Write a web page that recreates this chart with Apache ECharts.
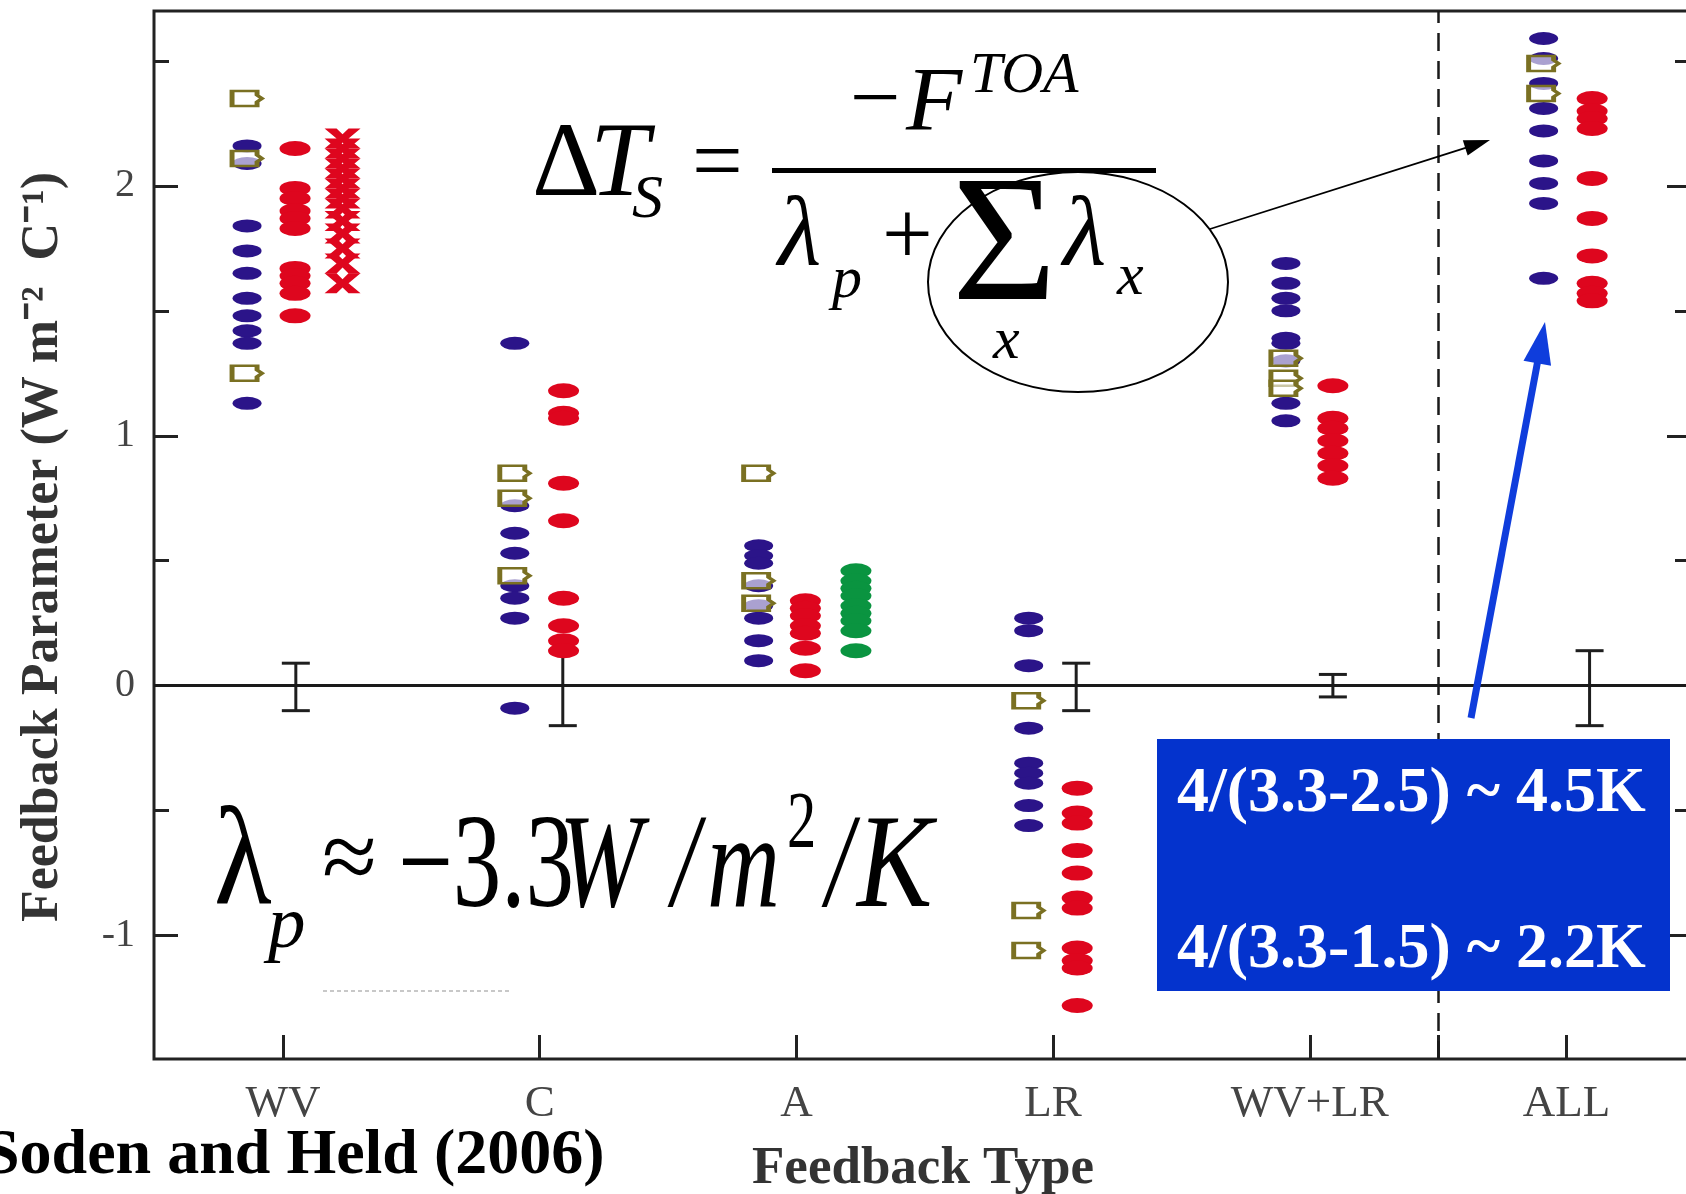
<!DOCTYPE html>
<html><head><meta charset="utf-8">
<script src="https://cdn.jsdelivr.net/npm/echarts@6/dist/echarts.min.js"></script>
<style>html,body{margin:0;padding:0;background:#fff}#c{width:1686px;height:1194px}</style>
</head><body><div id="c"></div>
<script>
// ---------- data ----------
const categories = ['WV', 'C', 'A', 'LR', 'WV+LR', 'ALL'];
const yTickLabels = [-1, 0, 1, 2];
const yMinorTicks = [-0.5, 0.5, 1.5, 2.5];
const xTickValues = [0, 1, 2, 3, 4, 4.5, 5];
const separatorX = 4.5;

// blue dots (left column)
const blueWV   = [2.16, 2.09, 1.84, 1.74, 1.65, 1.55, 1.48, 1.42, 1.37, 1.13];
const blueC    = [1.37, 0.72, 0.61, 0.53, 0.40, 0.35, 0.27, -0.09];
const blueA    = [0.56, 0.52, 0.49, 0.40, 0.32, 0.27, 0.18, 0.10];
const blueLR   = [0.27, 0.22, 0.08, -0.17, -0.31, -0.35, -0.39, -0.48, -0.56];
const blueWVLR = [1.69, 1.61, 1.55, 1.50, 1.39, 1.37, 1.30, 1.13, 1.06];
const blueALL  = [2.59, 2.51, 2.41, 2.31, 2.22, 2.10, 2.01, 1.93, 1.63];
// olive open markers (left column)
const oliveWV   = [2.35, 2.11, 1.25];
const oliveC    = [0.85, 0.75, 0.44];
const oliveA    = [0.85, 0.42, 0.33];
const oliveLR   = [-0.06, -0.90, -1.06];
const oliveWVLR = [1.31, 1.23, 1.19];
const oliveALL  = [2.49, 2.37];
// red dots (right column)
const redWV   = [2.15, 1.99, 1.95, 1.90, 1.87, 1.83, 1.67, 1.64, 1.61, 1.57, 1.48];
const redC    = [1.18, 1.09, 1.07, 0.81, 0.66, 0.35, 0.24, 0.18, 0.14];
const redA    = [0.34, 0.31, 0.28, 0.24, 0.21, 0.15, 0.06];
const redLR   = [-0.41, -0.51, -0.55, -0.66, -0.75, -0.85, -0.89, -1.05, -1.10, -1.13, -1.28];
const redWVLR = [1.20, 1.07, 1.03, 0.98, 0.93, 0.88, 0.83];
const redALL  = [2.35, 2.30, 2.27, 2.23, 2.03, 1.87, 1.72, 1.61, 1.57, 1.54];
// red crosses (WV, third column) and green dots (A, third column)
const redCrossWV = [2.19, 2.15, 2.11, 2.07, 2.03, 1.99, 1.95, 1.91, 1.86, 1.81, 1.75, 1.69, 1.61];
const greenA     = [0.46, 0.42, 0.39, 0.36, 0.32, 0.29, 0.26, 0.22, 0.14];
// error bars: [category index, low, high]
const errCats = [0, 1, 3, 4, 5];
const errLow  = [-0.10, -0.16, -0.10, -0.045, -0.16];
const errHigh = [0.09, 0.14, 0.09, 0.045, 0.14];

// ---------- build ----------
const leftOff  = [-0.14, -0.097, -0.147, -0.095, -0.093, -0.089];
const rightOff = [0.047, 0.093, 0.035, 0.094, 0.09, 0.10];
const thirdOff = 0.232;
function pts(ci, off, vals) { return vals.map(v => [ci + off, v]); }
const blueData = [blueWV, blueC, blueA, blueLR, blueWVLR, blueALL].flatMap((a, i) => pts(i, leftOff[i], a));
const oliveData = [oliveWV, oliveC, oliveA, oliveLR, oliveWVLR, oliveALL].flatMap((a, i) => pts(i, leftOff[i], a));
const redData = [redWV, redC, redA, redLR, redWVLR, redALL].flatMap((a, i) => pts(i, rightOff[i], a));
const crossData = pts(0, thirdOff, redCrossWV);
const greenData = pts(2, thirdOff, greenA);
const errData = errCats.map((c, i) => [c + (c === 0 ? 0.05 : 0.09), errLow[i], errHigh[i]]);

const ELL = 'path://M0,5A10,5 0 1,1 20,5A10,5 0 1,1 0,5Z';
const TAG = 'path://M1,1L16,1L16,3.5L19,5.5L16,7.5L16,10L1,10Z';
const XS = 'path://M0,0H4L6,3.5L8,0H12L8,6L12,12H8L6,8.5L4,12H0L4,6Z';

const SERIF = '"Liberation Serif","Times New Roman",serif';
const AX = '#222';

function txt(t, x, y, size, opts) {
  opts = opts || {};
  const font = (opts.italic ? 'italic ' : '') + (opts.bold ? 'bold ' : '') + size + 'px ' + SERIF;
  return {
    type: 'text', x: x, y: y, scaleX: opts.sx || 1, scaleY: 1, z: 100,
    style: { text: t, font: font, fill: opts.color || '#000', align: 'left', verticalAlign: 'middle',
             textAlign: 'left', textVerticalAlign: 'middle' }
  };
}
function arrow(x1, y1, x2, y2, w, headL, headW, color) {
  const dx = x2 - x1, dy = y2 - y1, L = Math.hypot(dx, dy);
  const ux = dx / L, uy = dy / L, nx = -uy, ny = ux;
  const bx = x2 - ux * headL, by = y2 - uy * headL;
  return [
    { type: 'line', z: 100, shape: { x1: x1, y1: y1, x2: bx + ux * 2, y2: by + uy * 2 }, style: { stroke: color, lineWidth: w } },
    { type: 'polygon', z: 100, shape: { points: [[x2, y2], [bx + nx * headW, by + ny * headW], [bx - nx * headW, by - ny * headW]] }, style: { fill: color } }
  ];
}

const graphics = [
  // formula
  txt('Δ', 532, 167, 106),
  txt('T', 590, 167, 106, { italic: true }),
  txt('S', 632, 201, 62, { italic: true }),
  txt('=', 692, 167, 90),
  { type: 'rect', z: 100, shape: { x: 772, y: 168, width: 384, height: 5 }, style: { fill: '#000' } },
  txt('−', 850, 103, 90),
  txt('F', 906, 106, 92, { italic: true }),
  txt('TOA', 970, 77, 58, { italic: true }),
  txt('λ', 778, 239, 100, { italic: true }),
  txt('p', 832, 281, 60, { italic: true }),
  txt('+', 882, 240, 90),
  txt('Σ', 952, 252, 180),
  txt('λ', 1063, 239, 100, { italic: true }),
  txt('x', 1117, 278, 60, { italic: true }),
  txt('x', 993, 342, 60, { italic: true }),
  { type: 'ellipse', z: 100, shape: { cx: 1078, cy: 282, rx: 150, ry: 110 }, style: { stroke: '#000', lineWidth: 2, fill: null } },
  // lambda_p
  txt('λ', 214, 866, 140, { sx: 0.85 }),
  txt('p', 268, 927, 75, { italic: true }),
  txt('≈', 322, 864, 100),
  txt('−3.3', 398, 871, 133, { sx: 0.73 }),
  txt('W', 559, 871, 133, { italic: true, sx: 0.75 }),
  txt('/', 672, 871, 133, { italic: true, sx: 0.73 }),
  txt('m', 707, 871, 133, { italic: true, sx: 0.76 }),
  txt('2', 787, 826, 80, { sx: 0.73 }),
  txt('/', 826, 871, 133, { italic: true, sx: 0.73 }),
  txt('K', 857, 871, 133, { italic: true, sx: 0.85 }),
  { type: 'line', z: 100, shape: { x1: 323, y1: 991, x2: 511, y2: 991 }, style: { stroke: '#c8c8c8', lineWidth: 2, lineDash: [4, 3] } },
  // blue box
  { type: 'rect', z: 100, shape: { x: 1157, y: 739, width: 513, height: 252 }, style: { fill: '#0433cd' } },
  txt('4/(3.3-2.5) ~ 4.5K', 1177, 794, 64, { bold: true, color: '#fff' }),
  txt('4/(3.3-1.5) ~ 2.2K', 1177, 950, 64, { bold: true, color: '#fff' }),
  // citation
  txt('Soden and Held (2006)', -16, 1156, 64, { bold: true }),
].concat(
  arrow(1210, 229, 1490, 140, 1.8, 26, 8, '#000'),
  arrow(1471, 718, 1545, 322, 7, 42, 14, '#0f3ddc')
);

const tickLbl = { color: '#444', fontFamily: SERIF, fontSize: 40 };
const noZero = { show: false, onZero: false };

const option = {
  animation: false,
  backgroundColor: '#fff',
  grid: { left: 154, top: 11, right: -6, bottom: 135, outerBoundsMode: 'none', containLabel: false,
          show: true, borderColor: AX, borderWidth: 3, backgroundColor: 'transparent' },
  xAxis: {
    type: 'value', min: -0.5025, max: 5.489,
    axisLine: noZero, splitLine: { show: false },
    axisTick: { show: true, inside: true, length: 24, customValues: xTickValues, lineStyle: { color: AX, width: 3 } },
    axisLabel: { customValues: [0, 1, 2, 3, 4, 5], formatter: v => categories[Math.round(v)] || '', margin: 23,
                 color: '#444', fontFamily: SERIF, fontSize: 45 },
    name: 'Feedback Type', nameLocation: 'middle', nameGap: 84,
    nameTextStyle: { fontFamily: SERIF, fontWeight: 'bold', fontSize: 53, color: '#333' }
  },
  yAxis: [
    {
      type: 'value', min: -1.494, max: 2.7, position: 'left',
      axisLine: noZero, splitLine: { show: false },
      axisTick: { show: true, inside: true, length: 24, customValues: yTickLabels, lineStyle: { color: AX, width: 3 } },
      axisLabel: Object.assign({ customValues: yTickLabels, margin: 19, formatter: v => String(v) }, tickLbl),
      name: 'Feedback Parameter (W m⁻²  C⁻¹)', nameLocation: 'middle', nameRotate: 90, nameGap: 84,
      nameTextStyle: { fontFamily: SERIF, fontWeight: 'bold', fontSize: 52, color: '#333', padding: [0, 0, 0, -24] }
    },
    {
      type: 'value', min: -1.494, max: 2.7, position: 'left',
      axisLine: noZero, splitLine: { show: false }, axisLabel: { show: false },
      axisTick: { show: true, inside: true, length: 15, customValues: yMinorTicks, lineStyle: { color: AX, width: 3 } }
    },
    {
      type: 'value', min: -1.494, max: 2.7, position: 'right',
      axisLine: noZero, splitLine: { show: false }, axisLabel: { show: false },
      axisTick: { show: true, inside: true, length: 25, customValues: yTickLabels, lineStyle: { color: AX, width: 3 } }
    },
    {
      type: 'value', min: -1.494, max: 2.7, position: 'right',
      axisLine: noZero, splitLine: { show: false }, axisLabel: { show: false },
      axisTick: { show: true, inside: true, length: 17, customValues: yMinorTicks, lineStyle: { color: AX, width: 3 } }
    }
  ],
  series: [
    {
      type: 'custom', name: 'err', data: errData, z: 3,
      renderItem: function (params, api) {
        const x = api.value(0), lo = api.value(1), hi = api.value(2);
        const a = api.coord([x, hi]), b = api.coord([x, lo]);
        const hw = 14, st = { stroke: '#1e1e1e', lineWidth: 3 };
        return { type: 'group', children: [
          { type: 'line', shape: { x1: a[0], y1: a[1], x2: b[0], y2: b[1] }, style: st },
          { type: 'line', shape: { x1: a[0] - hw, y1: a[1], x2: a[0] + hw, y2: a[1] }, style: st },
          { type: 'line', shape: { x1: b[0] - hw, y1: b[1], x2: b[0] + hw, y2: b[1] }, style: st }
        ] };
      },
      markLine: {
        silent: true, symbol: 'none', label: { show: false },
        data: [
          { yAxis: 0, lineStyle: { color: '#1a1a1a', width: 3, type: 'solid' } },
          { xAxis: separatorX, lineStyle: { color: '#1a1a1a', width: 2.5, type: [18, 10] } }
        ]
      }
    },
    { type: 'scatter', name: 'blue', data: blueData, symbol: ELL, symbolSize: [29, 13], itemStyle: { color: '#2b1489', opacity: 1 }, z: 4 },
    { type: 'scatter', name: 'olive', data: oliveData, symbol: TAG, symbolSize: [30, 15], itemStyle: { color: 'rgba(255,255,255,0.6)', borderColor: '#7a7022', borderWidth: 3.5, opacity: 1 }, z: 5 },
    { type: 'scatter', name: 'red', data: redData, symbol: ELL, symbolSize: [31, 15], itemStyle: { color: '#de061e', opacity: 1 }, z: 4 },
    { type: 'scatter', name: 'redx', data: crossData, symbol: XS, symbolSize: [36, 20], itemStyle: { color: '#de061e', opacity: 1 }, z: 4 },
    { type: 'scatter', name: 'green', data: greenData, symbol: ELL, symbolSize: [31, 15], itemStyle: { color: '#0a9440', opacity: 1 }, z: 4 }
  ],
  graphic: { elements: graphics }
};

const chart = echarts.init(document.getElementById('c'), null, { renderer: 'canvas' });
chart.setOption(option);
</script>
</body></html>
